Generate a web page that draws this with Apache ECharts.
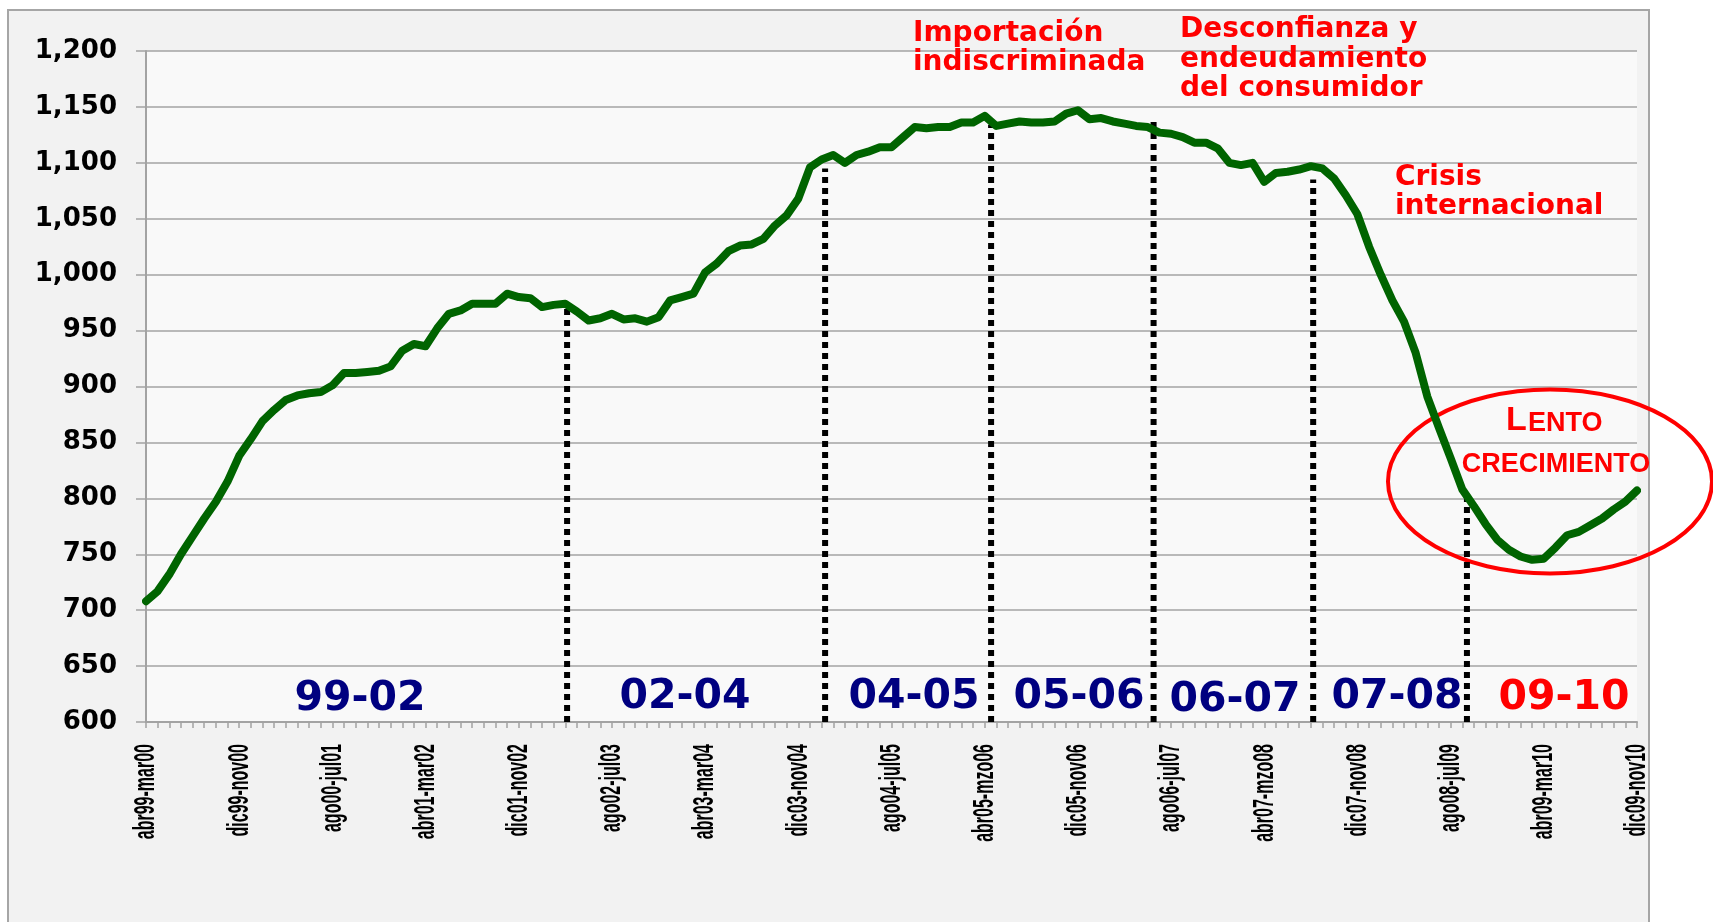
<!DOCTYPE html>
<html>
<head>
<meta charset="utf-8">
<title>Consumo - periodos</title>
<script src="https://cdn.jsdelivr.net/npm/echarts@6/dist/echarts.min.js"></script>
<style>
  html, body { margin: 0; padding: 0; background: #ffffff; }
  #chart { width: 1713px; height: 922px; }
</style>
</head>
<body>
<div id="chart"></div>
<script>
// abreviaturas de meses (etiquetas de 12 meses moviles)
const meses = ['ene', 'feb', 'mar', 'abr', 'may', 'jun', 'jul', 'ago', 'sep', 'oct', 'nov', 'dic'];

// valores, abr99-mar00 ... dic09-nov10
const valores = [
  708, 717, 732, 750, 766, 782, 797, 815, 838, 853,
  869, 879, 888, 892, 894, 895, 901, 912, 912, 913,
  914, 918, 932, 938, 936, 952, 965, 968, 974, 974,
  974, 983, 980, 979, 971, 973, 974, 967, 959, 961,
  965, 960, 961, 958, 962, 977, 980, 983, 1002, 1010,
  1021, 1026, 1027, 1032, 1044, 1053, 1068, 1096, 1103, 1107,
  1100, 1107, 1110, 1114, 1114, 1123, 1132, 1131, 1132, 1132,
  1136, 1136, 1142, 1133, 1135, 1137, 1136, 1136, 1137, 1144,
  1147, 1139, 1140, 1137, 1135, 1133, 1132, 1127, 1126, 1123,
  1118, 1118, 1113, 1100, 1098, 1100, 1083, 1091, 1092, 1094,
  1097, 1095, 1086, 1071, 1054, 1025, 1000, 977, 958, 930,
  891, 863, 836, 808, 793, 777, 763, 754, 748, 745,
  746, 756, 767, 770, 776, 782, 790, 797, 807
];

// lineas punteadas: posicion (indice de categoria) y altura donde tocan la curva
const divisiones = [36.15, 58.3, 72.55, 86.5, 100.2, 113.4];
const topes = [970, 1095, 1134, 1137, 1085, 805];

// etiquetas de los periodos
const periodos = ['99-02', '02-04', '04-05', '05-06', '06-07', '07-08', '09-10'];

const yMin = 600, yMax = 1200, yPaso = 50;
const cadaN = 8; // una etiqueta cada 8 meses

function mesTxt(n, esFin) {
  const anio = 1999 + Math.floor(n / 12);
  const m = n % 12;
  let abr = meses[m];
  if (esFin && m === 2 && anio >= 2005 && anio <= 2009) abr = 'mzo';
  return abr + String(anio % 100).padStart(2, '0');
}

const categorias = valores.map((v, i) => mesTxt(3 + i, false) + '-' + mesTxt(14 + i, true));

const chart = echarts.init(document.getElementById('chart'));

const rojo = '#ff0000';
const azul = '#000080';
const gris = '#a3a3a3';
const dv = "'DejaVu Sans'";
const lib = "'Liberation Sans'";

function texto(x, y, t, size, color, family, align) {
  return {
    type: 'text',
    x: x,
    y: y,
    z: 100,
    silent: true,
    style: {
      text: t,
      fill: color,
      font: 'bold ' + size + 'px ' + family,
      align: align || 'left',
      verticalAlign: 'middle'
    }
  };
}

const option = {
  animation: false,
  backgroundColor: 'transparent',
  grid: {
    left: 146,
    right: 76,
    top: 51,
    bottom: 200,
    show: true,
    backgroundColor: '#f9f9f9',
    borderWidth: 0
  },
  xAxis: [
    {
      type: 'category',
      data: categorias,
      boundaryGap: false,
      axisLine: { lineStyle: { color: gris, width: 2 } },
      axisTick: { show: true, interval: 0, length: 6, lineStyle: { color: gris, width: 1.5 } },
      // las etiquetas se dibujan abajo (texto girado y ensanchado como en el original)
      axisLabel: { show: false },
      splitLine: { show: false }
    },
    {
      type: 'value',
      min: 0,
      max: valores.length - 1,
      show: false,
      position: 'top'
    }
  ],
  yAxis: {
    type: 'value',
    min: yMin,
    max: yMax,
    interval: yPaso,
    axisLine: { show: true, lineStyle: { color: gris, width: 2 } },
    axisTick: { show: true, length: 10, lineStyle: { color: gris, width: 1.5 } },
    axisLabel: {
      margin: 29,
      color: '#000',
      fontFamily: dv,
      fontWeight: 'bold',
      fontSize: 26,
      formatter: v => v.toLocaleString('en-US')
    },
    splitLine: { show: true, lineStyle: { color: gris, width: 1.5 } }
  },
  series: [
    {
      name: 'consumo',
      type: 'line',
      data: valores,
      symbol: 'none',
      z: 3,
      lineStyle: { color: '#006400', width: 8, cap: 'round', join: 'round' },
      silent: true
    }
  ].concat(divisiones.map((x, k) => ({
    type: 'line',
    xAxisIndex: 1,
    data: [[x, yMin], [x, topes[k]]],
    symbol: 'none',
    z: 1,
    silent: true,
    lineStyle: { color: '#000', width: 6, type: [6, 5], cap: 'butt' }
  })))
};

chart.setOption(option);

// etiquetas del eje x, colocadas con la escala del eje
const etiquetasX = categorias
  .filter((c, i) => i % cadaN === 0)
  .map(c => {
    const px = chart.convertToPixel({ xAxisIndex: 0 }, c);
    const base = chart.convertToPixel({ yAxisIndex: 0 }, yMin);
    return {
      type: 'text',
      x: px,
      y: base + 22,
      rotation: Math.PI / 2,
      scaleY: 1.9,
      silent: true,
      z: 50,
      style: {
        text: c,
        fill: '#000',
        font: 'bold 16px ' + lib,
        align: 'right',
        verticalAlign: 'middle'
      }
    };
  });

chart.setOption({
  graphic: [
    // marco exterior
    {
      type: 'rect',
      z: -10,
      silent: true,
      shape: { x: 8, y: 10, width: 1641, height: 930 },
      style: { fill: '#f2f2f2', stroke: '#a6a6a6', lineWidth: 2 }
    },
    // anotaciones
    texto(913, 34, 'Importación', 28, rojo, dv),
    texto(913, 63, 'indiscriminada', 28, rojo, dv),
    texto(1180, 30, 'Desconfianza y', 28, rojo, dv),
    texto(1180, 60, 'endeudamiento', 28, rojo, dv),
    texto(1180, 89, 'del consumidor', 28, rojo, dv),
    texto(1395, 178, 'Crisis', 28, rojo, dv),
    texto(1395, 207, 'internacional', 28, rojo, dv),
    // elipse "lento crecimiento"
    {
      type: 'ellipse',
      z: 1,
      silent: true,
      shape: { cx: 1550, cy: 481.5, rx: 162, ry: 92 },
      style: { fill: 'none', stroke: rojo, lineWidth: 4 }
    },
    texto(1506, 421, 'L', 34, rojo, lib),
    texto(1528, 423.5, 'ENTO', 27, rojo, lib),
    texto(1556, 464.6, 'CRECIMIENTO', 27, rojo, lib, 'center'),
    // periodos
    texto(360, 699, periodos[0], 41, azul, dv, 'center'),
    texto(685, 697, periodos[1], 41, azul, dv, 'center'),
    texto(914, 697.5, periodos[2], 41, azul, dv, 'center'),
    texto(1079, 697, periodos[3], 41, azul, dv, 'center'),
    texto(1235, 700, periodos[4], 41, azul, dv, 'center'),
    texto(1397, 697, periodos[5], 41, azul, dv, 'center'),
    texto(1564, 698, periodos[6], 41, rojo, dv, 'center')
  ].concat(etiquetasX)
});
</script>
</body>
</html>
